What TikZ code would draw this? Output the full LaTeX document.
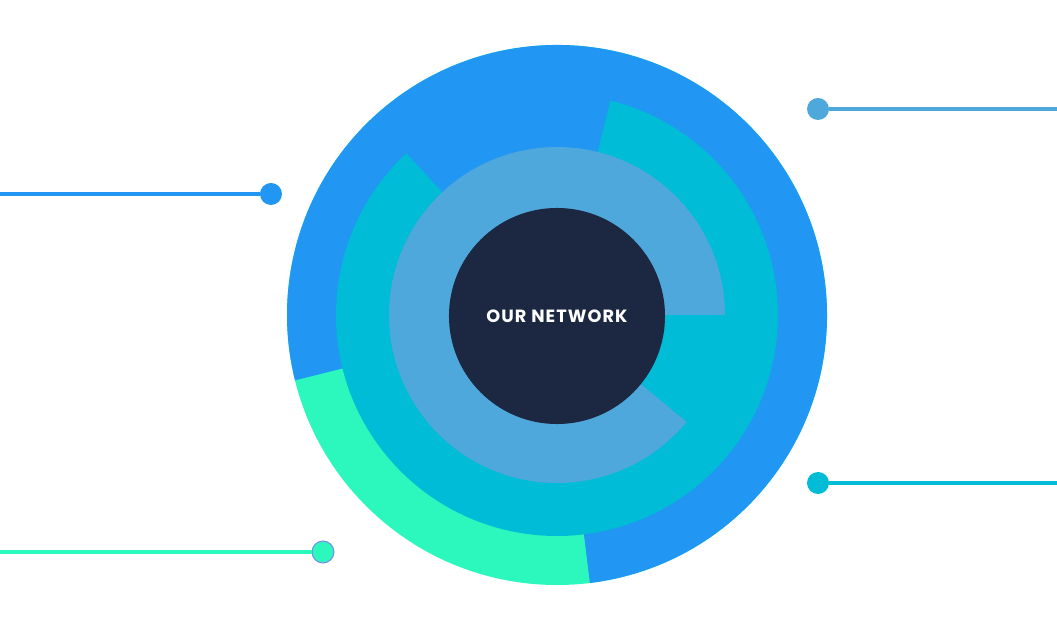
\documentclass[tikz,border=0pt]{standalone}
\usepackage{fontspec}
\newfontfamily\netfont[LetterSpace=6]{Poppins}
\definecolor{netblue}{HTML}{2196F3}
\definecolor{netteal}{HTML}{00BCD6}
\definecolor{netlight}{HTML}{4FA8DC}
\definecolor{netgreen}{HTML}{2CF8BE}
\definecolor{netnavy}{HTML}{1C2742}
\definecolor{netrim}{HTML}{7B86EE}
\begin{document}
\begin{tikzpicture}[x=0.025cm,y=0.025cm,
  dot/.style={circle,fill=#1,inner sep=0pt,minimum size=0.55cm},
  lead/.style={draw=#1,line width=2.9pt}]
\useasboundingbox (-557,-314) rectangle (500,315);
\fill[netgreen] (0,0) circle[radius=270];
\fill[netblue] (0,0) -- (-83:270) arc[start angle=-83,end angle=194,radius=270] -- cycle;
\fill[netteal] (0,0) -- (133:221) arc[start angle=133,end angle=436,radius=221] -- cycle;
\fill[netlight] (0,0) -- (0:168) arc[start angle=0,end angle=320.5,radius=168] -- cycle;
\node [circle,fill=netnavy,minimum size=5.4cm,text=white] (c) at (0,-1) {\netfont\bfseries\fontsize{12.6}{14}\selectfont OUR NETWORK};
\node [dot=netblue] (a) at (-286,121) {};
\node [dot=netgreen,draw=netrim,line width=0.7pt] (b) at (-234,-237) {};
\node [dot=netlight] (d) at (261,206) {};
\node [dot=netteal] (e) at (261,-168) {};
\coordinate (a0) at (-560,121);
\coordinate (b0) at (-560,-237);
\coordinate (d0) at (503,206);
\coordinate (e0) at (503,-168);
\draw [lead=netblue] (a0) -- (a);
\draw [lead=netgreen] (b0) -- (b);
\draw [lead=netlight] (d) -- (d0);
\draw [lead=netteal] (e) -- (e0);
\end{tikzpicture}
\end{document}
